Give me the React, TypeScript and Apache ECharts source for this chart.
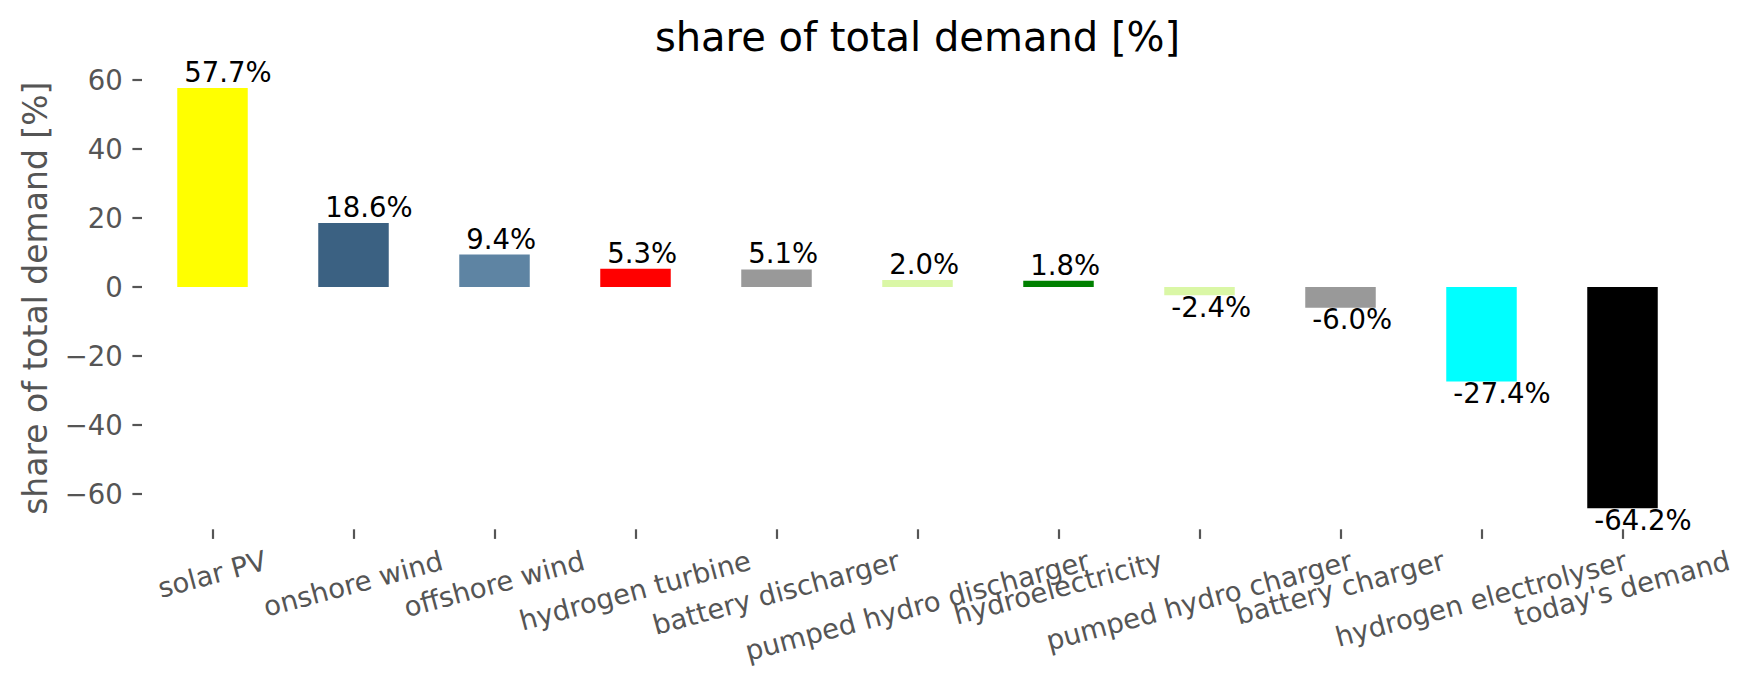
import React, { useEffect, useRef } from "react";
import * as echarts from "echarts";

// ---- data ----
const categories = [
  "solar PV",
  "onshore wind",
  "offshore wind",
  "hydrogen turbine",
  "battery discharger",
  "pumped hydro discharger",
  "hydroelectricity",
  "pumped hydro charger",
  "battery charger",
  "hydrogen electrolyser",
  "today's demand",
];
const shares = [57.7, 18.6, 9.4, 5.3, 5.1, 2.0, 1.8, -2.4, -6.0, -27.4, -64.2];
const barColors = [
  "#ffff00",
  "#3b6182",
  "#5e84a3",
  "#ff0000",
  "#999999",
  "#daf7a6",
  "#008000",
  "#daf7a6",
  "#999999",
  "#00ffff",
  "#000000",
];
const yTicks = [-60, -40, -20, 0, 20, 40, 60];
const yRange = [-70.295, 63.795];
const titleText = "share of total demand [%]";
const yLabelText = "share of total demand [%]";

// ---- style ----
const FONT = "DejaVu Sans";
const TICK_FS = 27.5;
const TITLE_FS = 40;
const YLABEL_FS = 33;
const GRAY = "#555555";
const W = 1753;
const H = 689;
const GRID = { left: 142, right: 60, top: 67.1, bottom: H - 529.3 };
const ROT = (15 * Math.PI) / 180;

export default function App() {
  const ref = useRef<HTMLDivElement>(null);

  useEffect(() => {
    if (!ref.current) return;
    const chart = echarts.init(ref.current, undefined, { renderer: "svg" });

    const ctx = document.createElement("canvas").getContext("2d")!;
    ctx.font = `${TICK_FS}px "${FONT}"`;
    const labelWidths = categories.map((c) => ctx.measureText(c).width);

    const plotW = W - GRID.left - GRID.right;
    const plotTop = GRID.top;
    const plotBottom = H - GRID.bottom;

    chart.setOption({
      animation: false,
      backgroundColor: "#ffffff",
      grid: { left: GRID.left, right: GRID.right, top: GRID.top, bottom: GRID.bottom },
      xAxis: {
        type: "category",
        data: categories,
        boundaryGap: true,
        axisLine: { show: false, onZero: false },
        axisTick: {
          show: true,
          alignWithLabel: true,
          interval: 0,
          length: 9.6,
          lineStyle: { color: GRAY, width: 2.2 },
        },
        axisLabel: { show: false, interval: 0 },
        splitLine: { show: false },
      },
      yAxis: {
        type: "value",
        min: yRange[0],
        max: yRange[1],
        axisLine: { show: false },
        splitLine: { show: false },
        axisTick: {
          show: true,
          length: 9.6,
          customValues: yTicks,
          lineStyle: { color: GRAY, width: 2.2 },
        },
        axisLabel: {
          customValues: yTicks,
          margin: 19.2,
          fontSize: TICK_FS,
          fontFamily: FONT,
          color: GRAY,
          formatter: (v: number) => String(v).replace("-", "\u2212"),
        },
      },
      graphic: [
        {
          type: "text",
          x: GRID.left + plotW / 2,
          y: 51 - 0.346 * TITLE_FS,
          style: {
            text: titleText,
            align: "center",
            verticalAlign: "middle",
            fontSize: TITLE_FS,
            fontFamily: FONT,
            fill: "#000000",
          },
        },
        {
          type: "text",
          x: 47 - 0.346 * YLABEL_FS,
          y: (plotTop + plotBottom) / 2,
          rotation: Math.PI / 2,
          style: {
            text: yLabelText,
            align: "center",
            verticalAlign: "middle",
            fontSize: YLABEL_FS,
            fontFamily: FONT,
            fill: GRAY,
          },
        },
      ],
      series: [
        {
          type: "bar",
          barWidth: "50%",
          data: shares.map((v, i) => ({ value: v, itemStyle: { color: barColors[i] } })),
          z: 2,
        },
        {
          type: "custom",
          clip: false,
          silent: true,
          z: 5,
          data: shares.map((v, i) => [i, v]),
          renderItem: (params: any, api: any) => {
            const i = api.value(0);
            const v = api.value(1);
            const p = api.coord([i, v]);
            const band = api.size([1, 0])[0];
            const left = p[0] - band * 0.25;
            const y = v >= 0 ? p[1] - 6.5 - 0.346 * TICK_FS : p[1] + 0.76 * TICK_FS - 0.346 * TICK_FS;
            return {
              type: "text",
              x: left + 7,
              y,
              style: {
                text: v.toFixed(1) + "%",
                align: "left",
                verticalAlign: "middle",
                fontSize: TICK_FS,
                fontFamily: FONT,
                fill: "#000000",
              },
            };
          },
        },
        {
          type: "custom",
          clip: false,
          silent: true,
          z: 5,
          data: categories.map((c, i) => [i, yRange[0]]),
          renderItem: (params: any, api: any) => {
            const i = api.value(0);
            const p = api.coord([i, yRange[0]]);
            const w = labelWidths[i];
            const h = 0.968 * TICK_FS;
            const cy = p[1] + 19.2 + (w * Math.sin(ROT) + h * Math.cos(ROT)) / 2;
            return {
              type: "text",
              x: p[0],
              y: cy,
              rotation: ROT,
              style: {
                text: categories[i],
                x: 0,
                y: -0.07 * TICK_FS,
                align: "center",
                verticalAlign: "middle",
                fontSize: TICK_FS,
                fontFamily: FONT,
                fill: GRAY,
              },
            };
          },
        },
      ],
    });

    return () => chart.dispose();
  }, []);

  return (
    <div
      ref={ref}
      style={{ position: "absolute", left: 0, top: 0, width: W, height: H }}
    />
  );
}
